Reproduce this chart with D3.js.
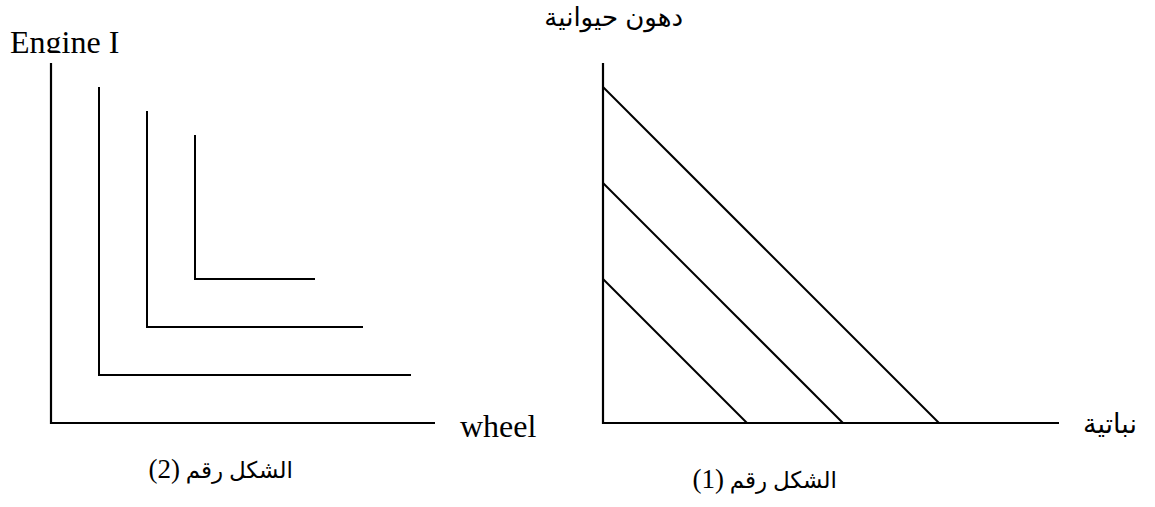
<!DOCTYPE html>
<html>
<head>
<meta charset="utf-8">
<script src="https://cdn.jsdelivr.net/npm/d3@7"></script>
<style>
  body { margin: 0; background: #fff; }
  .serif { font-family: "Liberation Serif", "Times New Roman", serif; }
  .ar { font-family: "Liberation Sans", Arial, "DejaVu Sans", sans-serif; }
  .cap { font-family: "Liberation Serif", "DejaVu Sans", serif; }
</style>
</head>
<body>
<script>
const width = 1155, height = 507;

// figure (2): L-shaped indifference curves, [corner x, corner y, top y, right x]
const lCurves = [
  [1, 1, 7, 7.5],
  [2, 2, 6.5, 6.5],
  [3, 3, 6, 5.5]
];

// figure (1): straight lines with slope -1, intercepts
const intercepts = [3, 5, 7];

const svg = d3.select("body").append("svg")
  .attr("width", width)
  .attr("height", height);

// scales for both panels
const xLeft = d3.scaleLinear().domain([0, 8]).range([51, 435]);
const xRight = d3.scaleLinear().domain([0, 9.5]).range([603, 1059]);
const y = d3.scaleLinear().domain([0, 7.5]).range([423, 63]);

function drawAxes(x) {
  svg.append("path")
    .attr("d", "M" + x(0) + "," + y(7.5) + "L" + x(0) + "," + y(0) + "L" + x(x.domain()[1]) + "," + y(0))
    .attr("fill", "none")
    .attr("stroke", "#000")
    .attr("stroke-width", 2.2);
}
drawAxes(xLeft);
drawAxes(xRight);

// L curves
svg.selectAll(".lcurve")
  .data(lCurves)
  .enter()
    .append("path")
    .attr("class", "lcurve")
    .attr("d", function(d) {
      return "M" + xLeft(d[0]) + "," + y(d[2])
        + "L" + xLeft(d[0]) + "," + y(d[1])
        + "L" + xLeft(d[3]) + "," + y(d[1]);
    })
    .attr("fill", "none")
    .attr("stroke", "#000")
    .attr("stroke-width", 2);

// diagonal lines
svg.selectAll(".budget")
  .data(intercepts)
  .enter()
    .append("line")
    .attr("class", "budget")
    .attr("x1", xRight(0))
    .attr("y1", function(d) { return y(d); })
    .attr("x2", function(d) { return xRight(d); })
    .attr("y2", y(0))
    .attr("stroke", "#000")
    .attr("stroke-width", 2);

// "Engine I" is cut off at the bottom in the original
svg.append("clipPath").attr("id", "cut")
  .append("rect").attr("x", 0).attr("y", 0).attr("width", 200).attr("height", 53);

svg.append("text")
  .attr("class", "serif")
  .attr("clip-path", "url(#cut)")
  .attr("x", 10)
  .attr("y", 53)
  .style("font-size", "32px")
  .text("Engine I");

svg.append("text")
  .attr("class", "serif")
  .attr("x", 460)
  .attr("y", 437)
  .style("font-size", "32px")
  .text("wheel");

svg.append("text")
  .attr("class", "ar")
  .attr("x", 683)
  .attr("y", 26)
  .attr("direction", "rtl")
  .style("font-size", "26px")
  .text("دهون حيوانية");

svg.append("text")
  .attr("class", "ar")
  .attr("x", 1137)
  .attr("y", 433)
  .attr("direction", "rtl")
  .style("font-size", "27px")
  .text("نباتية");

// captions
const captions = [
  { label: "الشكل رقم ", num: "(2)", x: 293, y: 478 },
  { label: "الشكل رقم ", num: "(1)", x: 837, y: 488 }
];

const cap = svg.selectAll(".caption")
  .data(captions)
  .enter()
    .append("text")
    .attr("class", "caption cap")
    .attr("x", function(d) { return d.x; })
    .attr("y", function(d) { return d.y; })
    .attr("direction", "rtl")
    .style("font-size", "23px");

cap.append("tspan").text(function(d) { return d.label; });
cap.append("tspan")
  .style("font-size", "27px")
  .text(function(d) { return d.num; });
</script>
</body>
</html>
